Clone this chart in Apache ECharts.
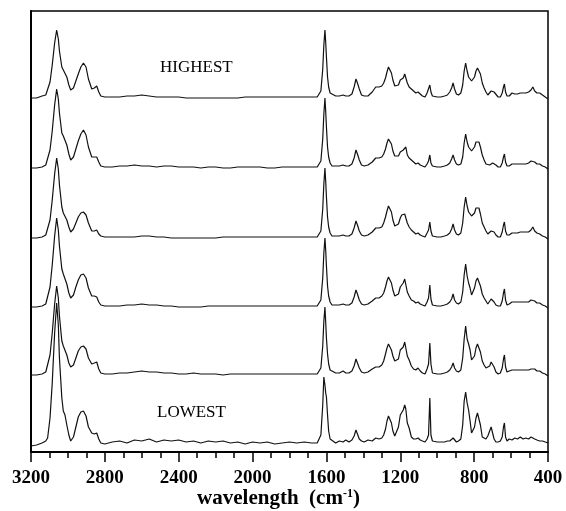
<!DOCTYPE html>
<html>
<head>
<meta charset="utf-8">
<script src="https://cdn.jsdelivr.net/npm/echarts@6/dist/echarts.min.js"></script>
<style>
html,body{margin:0;padding:0;background:#fff;}
#chart{width:566px;height:511px;}
</style>
</head>
<body>
<div id="chart"></div>
<script>
// Wavenumber grid (cm-1), shared by all spectra
const wnA = [3200,3170,3140,3120,3110,3097,3085,3072,3061,3052,3046,3033,3025,3016,3006,2995,2985,2970,2957,2944,2930,2916,2902,2889,2871,2857,2844,2833,2822,2800];
const wnB = [2760,2720,2680,2640,2600,2560,2520,2480,2440,2400,2360,2320,2280,2240,2200,2160,2120,2080,2040,2000,1960,1920,1880,1840,1800,1760,1720,1680];
const wnC = [
 1650,1630,1620,1614,1608,1604,1600,1594,1588,1580,
 1570,1550,1530,1510,1495,1478,1462,1450,1440,1432,
 1422,1410,1395,1375,1352,1333,1315,1300,1290,1280,
 1272,1264,1256,1248,1240,1230,1220,1210,1200,1192,
 1184,1176,1170,1162,1152,1140,1128,1116,1104,1092,
 1080,1066,1055,1047,1040,1034,1026,1016,1000,980,
 960,945,932,922,914,906,896,885,872,862,
 854,846,838,830,822,814,806,798,790,782,
 774,766,756,746,736,726,716,708,700,692,
 682,670,658,648,641,636,630,622,610,595,
 580,565,550,535,520,505,492,482,472,460,
 445,430,415,400];
const wavenumbers = wnA.concat(wnB, wnC);

// Spectra intensities (arbitrary units), top to bottom
const specHighest = [
 -1,-1,1,2,4,15,32,54,67,58,46,30,27,29,20,12,7,9,16,23,30,34,30,18,8,9,11,5,1,0,
 0,0,1,1,2,1,0,0,0,0,-1,-1,-1,-1,-1,-1,-1,-1,0,0,0,0,0,0,0,0,0,0,
 0,6,28,52,67,55,40,20,10,4,
 2,1,1,2,1,1,3,10,18,14,
 8,2,1,1,5,10,10,11,14,19,
 25,30,32,24,17,11,10,12,17,18,
 19,23,24,14,10,8,6,4,5,3,
 1,0,4,6,12,5,1,-1,0,0,
 1,2,5,9,14,8,3,2,4,12,
 26,34,26,20,18,16,14,20,26,29,
 28,23,14,9,5,2,3,6,8,5,
 3,0,0,4,10,13,5,1,1,4,
 3,3,4,4,4,5,7,10,6,4,
 4,2,0,-2];
const spec2 = [
 -1,-1,0,2,4,17,36,62,78,68,54,34,31,32,22,13,7,10,18,26,33,37,32,20,10,10,10,5,1,0,
 0,1,1,2,1,1,0,1,1,0,0,0,-1,0,0,-1,-1,0,0,0,0,-1,-1,0,0,0,0,0,
 0,6,28,53,69,56,40,20,10,4,
 1,1,1,2,1,1,3,9,17,13,
 7,2,1,2,5,9,9,10,13,18,
 24,28,30,23,16,11,9,11,15,16,
 17,19,20,12,9,7,5,3,4,2,
 1,0,3,6,12,4,1,-1,0,0,
 1,2,4,8,12,7,3,2,3,10,
 24,33,25,20,18,16,15,20,25,27,
 25,20,12,7,3,1,2,3,4,3,
 2,0,0,4,10,13,5,1,1,3,
 3,3,3,3,3,4,6,8,5,3,
 3,1,0,-2];
const spec3 = [
 -1,-1,0,2,4,17,37,63,79,68,52,30,24,23,17,10,5,8,14,20,24,25,22,14,6,6,7,3,1,0,
 0,0,0,0,1,1,0,0,-1,-1,-1,-1,-1,-1,-1,0,0,0,0,0,0,0,0,0,0,0,0,0,
 0,6,28,53,69,56,40,20,10,4,
 1,1,1,2,1,1,3,9,16,12,
 6,2,1,2,5,9,9,10,14,20,
 26,31,33,25,17,11,10,13,19,22,
 20,23,22,14,10,7,5,3,4,2,
 1,0,4,7,15,6,1,-1,0,0,
 1,2,4,8,13,7,3,2,4,14,
 30,40,31,25,23,21,20,24,29,31,
 29,23,14,10,6,3,4,6,8,5,
 2,0,0,5,12,15,6,2,2,4,
 4,4,5,5,5,5,7,10,6,4,
 3,1,0,-2];
const spec4 = [
 -1,-1,0,2,4,19,41,70,88,76,60,37,32,31,22,13,8,11,19,26,31,32,28,18,10,10,9,4,1,0,
 0,0,1,1,2,1,1,0,0,-1,-1,-1,-1,0,0,0,0,0,0,0,0,0,0,0,0,0,0,0,
 0,6,28,53,68,56,40,20,10,4,
 1,1,1,2,1,1,3,9,16,12,
 6,2,1,2,5,8,8,10,13,19,
 25,29,31,23,16,10,9,12,19,20,
 23,27,25,14,10,6,5,3,4,2,
 1,0,4,8,21,7,1,-1,0,0,
 1,2,4,7,12,6,3,2,4,14,
 31,42,30,23,18,11,10,18,25,28,
 27,20,12,8,5,2,4,7,8,4,
 1,0,0,5,13,17,6,1,2,4,
 4,4,4,4,4,4,6,8,5,3,
 3,1,0,-2];
const spec5 = [
 -1,-1,0,2,4,19,41,70,88,76,58,33,28,27,19,11,7,9,16,23,27,28,25,16,10,11,12,5,1,0,
 0,1,1,2,3,2,2,1,1,0,0,1,0,0,0,-1,0,0,0,0,0,0,0,0,0,0,0,0,
 0,6,28,53,67,52,36,20,10,4,
 2,1,1,3,1,1,3,8,15,11,
 6,2,1,2,5,7,7,9,13,20,
 26,30,31,24,18,13,12,15,24,24,
 27,32,31,18,14,8,5,4,6,3,
 1,0,5,10,31,10,1,-1,0,0,
 1,2,4,7,11,6,3,2,4,16,
 35,48,35,30,24,14,12,18,26,30,
 29,22,13,9,6,4,8,12,13,7,
 2,0,1,6,15,19,7,2,3,4,
 4,4,4,4,4,4,5,7,5,3,
 3,1,0,-2];
const specLowest = [
 -3,-2,0,2,5,25,60,110,140,118,85,45,32,28,18,8,2,6,16,26,31,32,27,16,10,9,10,4,0,-1,
 1,2,0,3,2,4,1,3,2,3,1,2,0,2,1,2,0,1,-1,1,0,1,-1,0,1,0,1,0,
 0,8,38,66,58,50,46,28,12,4,
 2,0,2,1,3,1,3,7,13,9,
 4,2,1,3,2,5,4,5,8,14,
 22,27,29,20,12,7,9,16,28,29,
 33,38,34,20,15,6,4,4,5,3,
 2,1,4,8,45,8,2,0,1,1,
 1,2,2,3,5,3,1,2,4,18,
 42,51,40,33,22,10,8,16,25,30,
 28,18,6,5,4,7,12,16,10,4,
 1,1,2,6,16,20,6,2,4,3,
 5,4,6,4,5,4,6,5,4,3,
 2,2,1,0];

const spectra = [specHighest, spec2, spec3, spec4, spec5, specLowest];
const offsets = [355, 285, 215, 146, 78, 9]; // vertical stacking offsets
const xTicks = {min: 400, max: 3200, step: 400};

spectra.forEach((s, k) => {
  if (s.length !== wavenumbers.length) throw new Error('length mismatch spectrum ' + k + ': ' + s.length + ' vs ' + wavenumbers.length);
});

const serif = '"Liberation Serif", "Times New Roman", serif';
const chart = echarts.init(document.getElementById('chart'), null, {renderer: 'canvas'});
chart.setOption({
  animation: false,
  backgroundColor: '#fff',
  grid: {left: 31, right: 18, top: 11, bottom: 59, containLabel: false, outerBoundsMode: 'none',
    show: true, borderColor: '#000', borderWidth: 1.5},
  xAxis: {
    type: 'value', min: xTicks.min, max: xTicks.max, interval: xTicks.step, inverse: true,
    axisLine: {show: true, lineStyle: {color: '#000', width: 2}},
    axisTick: {show: true, length: 10, lineStyle: {color: '#000', width: 1.5}},
    minorTick: {show: true, splitNumber: 4, length: 6, lineStyle: {color: '#000', width: 1.5}},
    splitLine: {show: false},
    axisLabel: {color: '#000', fontFamily: serif, fontWeight: 'bold', fontSize: 19, margin: 17,
      formatter: v => String(v)},
    name: 'wavelength  (cm{sup|-1})',
    nameLocation: 'middle', nameGap: 36, nameMoveOverlap: false,
    nameTextStyle: {color: '#000', fontFamily: serif, fontWeight: 'bold', fontSize: 21, padding: [0, 22, 0, 0],
      rich: {sup: {color: '#000', fontFamily: serif, fontWeight: 'bold', fontSize: 12, verticalAlign: 'top'}}}
  },
  yAxis: {
    type: 'value', min: 0, max: 441,
    axisLine: {show: true, lineStyle: {color: '#000', width: 2}},
    axisTick: {show: false}, axisLabel: {show: false}, splitLine: {show: false}
  },
  series: spectra.map((s, k) => ({
    type: 'line', showSymbol: false, symbol: 'none', silent: true,
    lineStyle: {color: '#111', width: 1.2},
    data: wavenumbers.map((w, i) => [w, offsets[k] + s[i]])
  })),
  graphic: [
    {type: 'text', left: 160, top: 59, style: {text: 'HIGHEST', font: '17px ' + serif, fill: '#000'}},
    {type: 'text', left: 157, top: 404, style: {text: 'LOWEST', font: '17px ' + serif, fill: '#000'}}
  ]
});
</script>
</body>
</html>
